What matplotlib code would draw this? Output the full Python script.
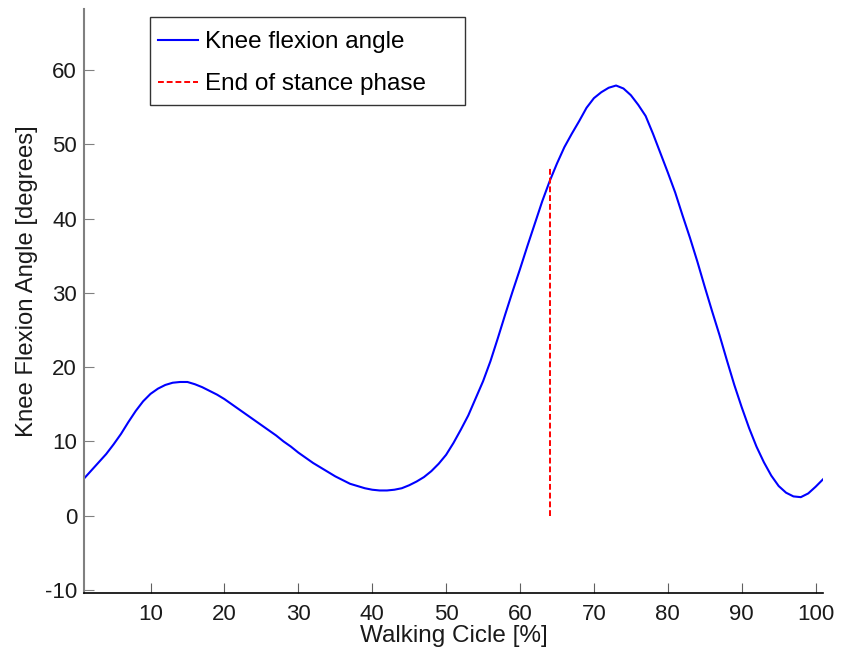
import matplotlib
matplotlib.use("Agg")
import matplotlib.pyplot as plt
from matplotlib.patches import Rectangle

# Data
cycle_pct = list(range(1, 102))
knee_angle = [5.0, 6.1, 7.2, 8.3, 9.6, 11.0, 12.6, 14.1, 15.4, 16.4,
              17.1, 17.6, 17.9, 18.0, 18.0, 17.7, 17.3, 16.8, 16.3, 15.7,
              15.0, 14.3, 13.6, 12.9, 12.2, 11.5, 10.8, 10.0, 9.3, 8.5,
              7.8, 7.1, 6.5, 5.9, 5.3, 4.8, 4.3, 4.0, 3.7, 3.5,
              3.4, 3.4, 3.5, 3.7, 4.1, 4.6, 5.2, 6.0, 7.0, 8.2,
              9.8, 11.6, 13.5, 15.8, 18.1, 20.8, 23.9, 27.1, 30.2, 33.2,
              36.3, 39.3, 42.3, 45.0, 47.4, 49.6, 51.4, 53.1, 54.9, 56.2,
              57.0, 57.6, 57.9, 57.5, 56.6, 55.3, 53.8, 51.4, 48.8, 46.2,
              43.5, 40.4, 37.4, 34.2, 30.8, 27.5, 24.3, 20.9, 17.6, 14.6,
              11.8, 9.3, 7.2, 5.4, 4.0, 3.1, 2.6, 2.5, 3.0, 3.9,
              4.9]
stance_end_x = [64, 64]
stance_end_y = [0, 47]
x_ticks = [10, 20, 30, 40, 50, 60, 70, 80, 90, 100]
y_ticks = [-10, 0, 10, 20, 30, 40, 50, 60]

plt.rcParams['font.family'] = ['Liberation Sans', 'DejaVu Sans']
plt.rcParams['axes.unicode_minus'] = False

fig = plt.figure(figsize=(8.41, 6.53), dpi=100)
W, H = 841, 653
ax = fig.add_axes([84 / W, (H - 593) / H, (823 - 84) / W, (593 - 9) / H])

ax.plot(cycle_pct, knee_angle, color='#0000ff', lw=1.5, label='Knee flexion angle')
ax.plot(stance_end_x, stance_end_y, color='#ff0000', lw=1.4, ls=(0, (3, 1.5)),
        label='End of stance phase')

ax.set_xlim(1, 101)
ax.set_ylim(-10.4, 68.2)
ax.set_xticks(x_ticks)
ax.set_yticks(y_ticks)

for s in ['top', 'right']:
    ax.spines[s].set_visible(False)
ax.spines['left'].set_color('#808080')
ax.spines['left'].set_linewidth(1.5)
ax.spines['bottom'].set_color('black')
ax.spines['bottom'].set_linewidth(1.2)

ax.tick_params(axis='both', direction='in', length=7, labelsize=16, colors='#1a1a1a')
ax.tick_params(axis='y', color='#808080', pad=5)
ax.tick_params(axis='x', color='#606060', pad=8)

ax.set_xlabel('Walking Cicle [%]', fontsize=17.5, labelpad=0, color='#1a1a1a')
ax.set_ylabel('Knee Flexion Angle [degrees]', fontsize=17.2, color='#1a1a1a')
ax.yaxis.set_label_coords((38 - 84) / (823 - 84), (593 - 281) / (593 - 9))

# legend frame (MATLAB-style, extra right padding)
frame = Rectangle((150 / W, 1 - 105 / H), (465 - 150) / W, (105 - 16.7) / H,
                  transform=fig.transFigure, facecolor='white',
                  edgecolor='#333333', linewidth=1.0, zorder=4.5, clip_on=False)
ax.add_artist(frame)
leg = ax.legend(loc='upper left',
                bbox_to_anchor=(158 / W, 1 - 31 / H), bbox_transform=fig.transFigure,
                fontsize=17.5, frameon=False, handlelength=1.65,
                borderaxespad=0, borderpad=0, labelspacing=0.84, handletextpad=0.29)
leg.set_zorder(5)

fig.savefig('out.png', dpi=100)
